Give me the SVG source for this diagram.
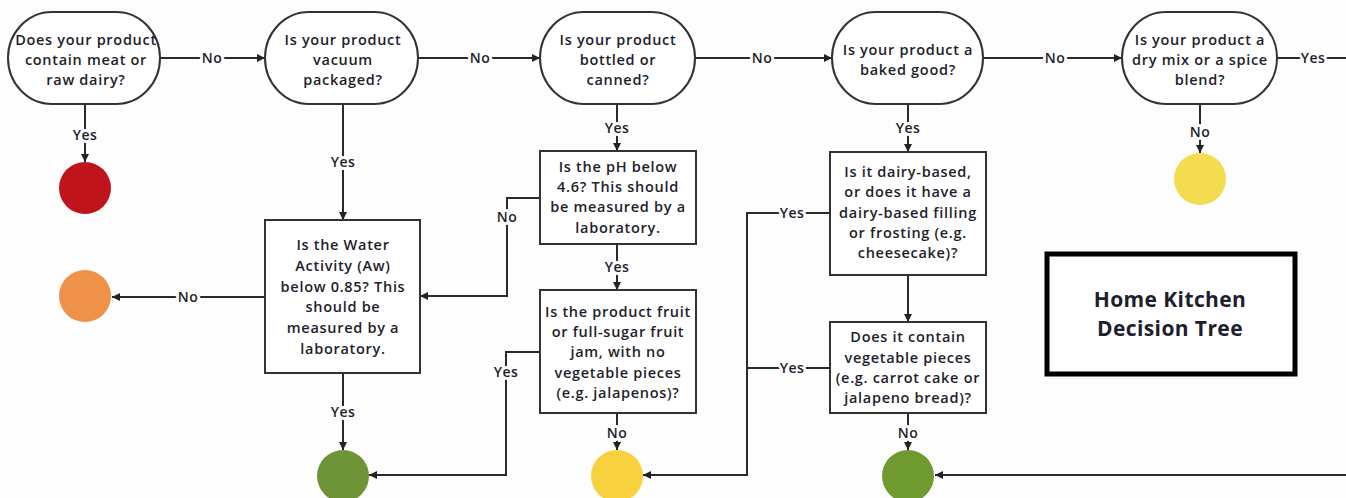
<svg xmlns="http://www.w3.org/2000/svg" width="1346" height="498" viewBox="0 0 1346 498">
<defs>
<marker id="arr" viewBox="0 0 10 10" refX="10" refY="5" markerWidth="8" markerHeight="8" markerUnits="userSpaceOnUse" orient="auto"><path d="M0,0 L10,5 L0,10 z" fill="#222"/></marker>
<style>
.t{font-family:"Open Sans","Liberation Sans",sans-serif;font-size:14.5px;letter-spacing:0.7px;font-weight:600;fill:#1e1e2c;text-anchor:middle}
.lbl{font-family:"Open Sans","Liberation Sans",sans-serif;font-size:14px;letter-spacing:0.4px;font-weight:600;fill:#1e1e2c;text-anchor:middle;stroke:#fdfdfd;stroke-width:6;paint-order:stroke;stroke-linejoin:round}
.sh{fill:#fff;stroke:#333;stroke-width:2}
.c{fill:none;stroke:#2a2a2a;stroke-width:2}
.ttl{font-family:"Open Sans","Liberation Sans",sans-serif;font-size:21px;letter-spacing:0.4px;font-weight:700;fill:#1e1e2c;text-anchor:middle}
</style>
</defs>
<rect width="1346" height="498" fill="#fdfdfd"/>

<g id="connectors">
<path class="c" d="M160,58 H265" marker-end="url(#arr)"/>
<path class="c" d="M418,58 H540" marker-end="url(#arr)"/>
<path class="c" d="M695,58 H832" marker-end="url(#arr)"/>
<path class="c" d="M983,58 H1122" marker-end="url(#arr)"/>
<path class="c" d="M1277,58 H1352 V475 H935" marker-end="url(#arr)"/>
<path class="c" d="M85,104 V162" marker-end="url(#arr)"/>
<path class="c" d="M343,104 V220" marker-end="url(#arr)"/>
<path class="c" d="M265,297 H112" marker-end="url(#arr)"/>
<path class="c" d="M343,373 V450" marker-end="url(#arr)"/>
<path class="c" d="M617,104 V151" marker-end="url(#arr)"/>
<path class="c" d="M540,198 H507 V296 H420" marker-end="url(#arr)"/>
<path class="c" d="M617,244 V290" marker-end="url(#arr)"/>
<path class="c" d="M540,352 H506 V475 H369" marker-end="url(#arr)"/>
<path class="c" d="M617,413 V450" marker-end="url(#arr)"/>
<path class="c" d="M908,104 V152" marker-end="url(#arr)"/>
<path class="c" d="M830,213 H747 V475 H643" marker-end="url(#arr)"/>
<path class="c" d="M830,368 H747"/>
<path class="c" d="M908,275 V322" marker-end="url(#arr)"/>
<path class="c" d="M908,413 V450" marker-end="url(#arr)"/>
<path class="c" d="M1200,104 V153" marker-end="url(#arr)"/>
<text class="lbl" x="212" y="63">No</text>
<text class="lbl" x="480" y="63">No</text>
<text class="lbl" x="762" y="63">No</text>
<text class="lbl" x="1055" y="63">No</text>
<text class="lbl" x="1313" y="63">Yes</text>
<text class="lbl" x="85" y="140">Yes</text>
<text class="lbl" x="343" y="167">Yes</text>
<text class="lbl" x="188" y="302">No</text>
<text class="lbl" x="343" y="417">Yes</text>
<text class="lbl" x="617" y="133">Yes</text>
<text class="lbl" x="507" y="222">No</text>
<text class="lbl" x="617" y="272">Yes</text>
<text class="lbl" x="506" y="377">Yes</text>
<text class="lbl" x="617" y="438">No</text>
<text class="lbl" x="908" y="133">Yes</text>
<text class="lbl" x="792" y="218">Yes</text>
<text class="lbl" x="792" y="373">Yes</text>
<text class="lbl" x="908" y="438">No</text>
<text class="lbl" x="1200" y="137">No</text>
</g>

<g id="q-meat">
<rect class="sh" x="8" y="12" width="152" height="92" rx="44" ry="46"/>
<text class="t" x="86" y="45">Does your product</text>
<text class="t" x="86" y="65">contain meat or</text>
<text class="t" x="86" y="85">raw dairy?</text>
</g>
<g id="q-vacuum">
<rect class="sh" x="265" y="12" width="153" height="92" rx="44" ry="46"/>
<text class="t" x="343" y="45">Is your product</text>
<text class="t" x="343" y="65">vacuum</text>
<text class="t" x="343" y="85">packaged?</text>
</g>
<g id="q-bottled">
<rect class="sh" x="540" y="12" width="155" height="92" rx="44" ry="46"/>
<text class="t" x="618" y="45">Is your product</text>
<text class="t" x="618" y="65">bottled or</text>
<text class="t" x="618" y="85">canned?</text>
</g>
<g id="q-baked">
<rect class="sh" x="832" y="12" width="151" height="92" rx="44" ry="46"/>
<text class="t" x="908" y="55">Is your product a</text>
<text class="t" x="908" y="75">baked good?</text>
</g>
<g id="q-drymix">
<rect class="sh" x="1122" y="12" width="155" height="92" rx="44" ry="46"/>
<text class="t" x="1200" y="45">Is your product a</text>
<text class="t" x="1200" y="65">dry mix or a spice</text>
<text class="t" x="1200" y="85">blend?</text>
</g>
<g id="q-water">
<rect class="sh" x="265" y="220" width="155" height="153"/>
<text class="t" x="343" y="250">Is the Water</text>
<text class="t" x="343" y="271">Activity (Aw)</text>
<text class="t" x="343" y="292">below 0.85? This</text>
<text class="t" x="343" y="312">should be</text>
<text class="t" x="343" y="333">measured by a</text>
<text class="t" x="343" y="354">laboratory.</text>
</g>
<g id="q-ph">
<rect class="sh" x="540" y="151" width="156" height="93"/>
<text class="t" x="618" y="172">Is the pH below</text>
<text class="t" x="618" y="192">4.6? This should</text>
<text class="t" x="618" y="212">be measured by a</text>
<text class="t" x="618" y="233">laboratory.</text>
</g>
<g id="q-fruit">
<rect class="sh" x="540" y="290" width="156" height="123"/>
<text class="t" x="618" y="317">Is the product fruit</text>
<text class="t" x="618" y="337">or full-sugar fruit</text>
<text class="t" x="618" y="357">jam, with no</text>
<text class="t" x="618" y="378">vegetable pieces</text>
<text class="t" x="618" y="398">(e.g. jalapenos)?</text>
</g>
<g id="q-dairy">
<rect class="sh" x="830" y="152" width="156" height="123"/>
<text class="t" x="908" y="177">Is it dairy-based,</text>
<text class="t" x="908" y="197">or does it have a</text>
<text class="t" x="908" y="218">dairy-based filling</text>
<text class="t" x="908" y="238">or frosting (e.g.</text>
<text class="t" x="908" y="258">cheesecake)?</text>
</g>
<g id="q-veg">
<rect class="sh" x="830" y="322" width="156" height="91"/>
<text class="t" x="908" y="342">Does it contain</text>
<text class="t" x="908" y="363">vegetable pieces</text>
<text class="t" x="908" y="383">(e.g. carrot cake or</text>
<text class="t" x="908" y="403">jalapeno bread)?</text>
</g>

<g id="r-red"><circle cx="85" cy="188" r="26" fill="#C0141C"/></g>
<g id="r-orange"><circle cx="85" cy="296" r="26" fill="#F0914A"/></g>
<g id="r-green1"><circle cx="343" cy="476" r="26" fill="#6F9438"/></g>
<g id="r-yellow1"><circle cx="617" cy="476" r="26" fill="#F8D23E"/></g>
<g id="r-green2"><circle cx="908" cy="476" r="26" fill="#6F9A30"/></g>
<g id="r-yellow2"><circle cx="1200" cy="179" r="26" fill="#F3DC50"/></g>

<g id="title">
<rect x="1047" y="254" width="248" height="120" fill="#fff" stroke="#000" stroke-width="5"/>
<text class="ttl" x="1170" y="307">Home Kitchen</text>
<text class="ttl" x="1170" y="336">Decision Tree</text>
</g>
</svg>
